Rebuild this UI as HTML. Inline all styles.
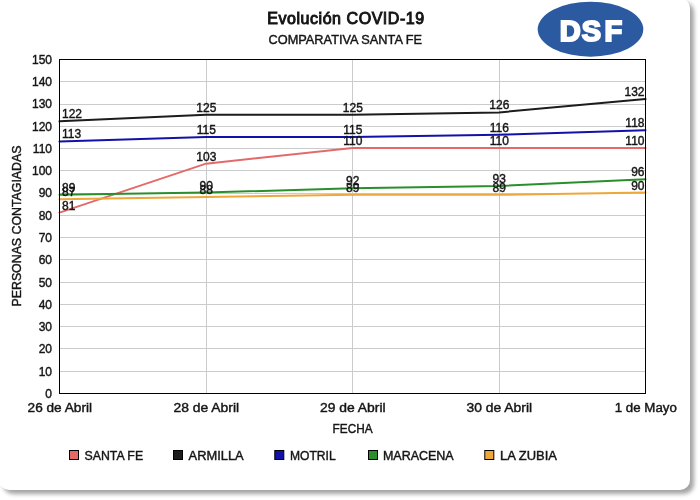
<!DOCTYPE html>
<html><head><meta charset="utf-8"><style>
html,body{margin:0;padding:0;background:#fff;width:700px;height:500px;overflow:hidden}
.card{position:absolute;left:-1px;top:-2px;width:691px;height:492px;background:#fff;border-radius:10px;box-shadow:4px 4px 4px rgba(0,0,0,0.36)}
svg{position:absolute;left:0;top:0;will-change:transform}
.t{font-family:"Liberation Sans",sans-serif;font-size:12px;fill:#151515;stroke:#151515;stroke-width:0.4px}
</style></head><body>
<div class="card"></div>
<svg width="700" height="500" viewBox="0 0 700 500">
<line x1="60" y1="371.5" x2="645" y2="371.5" stroke="#cbcbcb" stroke-width="1"/>
<line x1="60" y1="348.5" x2="645" y2="348.5" stroke="#cbcbcb" stroke-width="1"/>
<line x1="60" y1="326.5" x2="645" y2="326.5" stroke="#cbcbcb" stroke-width="1"/>
<line x1="60" y1="304.5" x2="645" y2="304.5" stroke="#cbcbcb" stroke-width="1"/>
<line x1="60" y1="282.5" x2="645" y2="282.5" stroke="#cbcbcb" stroke-width="1"/>
<line x1="60" y1="259.5" x2="645" y2="259.5" stroke="#cbcbcb" stroke-width="1"/>
<line x1="60" y1="237.5" x2="645" y2="237.5" stroke="#cbcbcb" stroke-width="1"/>
<line x1="60" y1="215.5" x2="645" y2="215.5" stroke="#cbcbcb" stroke-width="1"/>
<line x1="60" y1="193.5" x2="645" y2="193.5" stroke="#cbcbcb" stroke-width="1"/>
<line x1="60" y1="170.5" x2="645" y2="170.5" stroke="#cbcbcb" stroke-width="1"/>
<line x1="60" y1="148.5" x2="645" y2="148.5" stroke="#cbcbcb" stroke-width="1"/>
<line x1="60" y1="126.5" x2="645" y2="126.5" stroke="#cbcbcb" stroke-width="1"/>
<line x1="60" y1="104.5" x2="645" y2="104.5" stroke="#cbcbcb" stroke-width="1"/>
<line x1="60" y1="81.5" x2="645" y2="81.5" stroke="#cbcbcb" stroke-width="1"/>
<line x1="206.5" y1="60" x2="206.5" y2="393" stroke="#cbcbcb" stroke-width="1"/>
<line x1="352.5" y1="60" x2="352.5" y2="393" stroke="#cbcbcb" stroke-width="1"/>
<line x1="499.5" y1="60" x2="499.5" y2="393" stroke="#cbcbcb" stroke-width="1"/>
<text x="52" y="397.8" text-anchor="end" class="t">0</text>
<text x="52" y="375.5" text-anchor="end" class="t">10</text>
<text x="52" y="353.3" text-anchor="end" class="t">20</text>
<text x="52" y="331.0" text-anchor="end" class="t">30</text>
<text x="52" y="308.7" text-anchor="end" class="t">40</text>
<text x="52" y="286.5" text-anchor="end" class="t">50</text>
<text x="52" y="264.2" text-anchor="end" class="t">60</text>
<text x="52" y="241.9" text-anchor="end" class="t">70</text>
<text x="52" y="219.7" text-anchor="end" class="t">80</text>
<text x="52" y="197.4" text-anchor="end" class="t">90</text>
<text x="52" y="175.1" text-anchor="end" class="t">100</text>
<text x="52" y="152.9" text-anchor="end" class="t">110</text>
<text x="52" y="130.6" text-anchor="end" class="t">120</text>
<text x="52" y="108.3" text-anchor="end" class="t">130</text>
<text x="52" y="86.1" text-anchor="end" class="t">140</text>
<text x="52" y="63.8" text-anchor="end" class="t">150</text>
<text x="59.8" y="411.8" text-anchor="middle" class="t" textLength="64.4" lengthAdjust="spacingAndGlyphs">26 de Abril</text>
<text x="206.3" y="411.8" text-anchor="middle" class="t" textLength="65.5" lengthAdjust="spacingAndGlyphs">28 de Abril</text>
<text x="352.8" y="411.8" text-anchor="middle" class="t" textLength="65.7" lengthAdjust="spacingAndGlyphs">29 de Abril</text>
<text x="499.3" y="411.8" text-anchor="middle" class="t" textLength="65.5" lengthAdjust="spacingAndGlyphs">30 de Abril</text>
<text x="645.8" y="411.8" text-anchor="middle" class="t" textLength="62" lengthAdjust="spacingAndGlyphs">1 de Mayo</text>
<path d="M59.50,212.64 C59.50,212.64 206.00,163.65 206.00,163.65 C206.00,163.65 352.50,148.07 352.50,148.07 C352.50,148.07 499.00,148.07 499.00,148.07 C499.00,148.07 645.50,148.07 645.50,148.07" fill="none" stroke="#e46a6a" stroke-width="2" stroke-linejoin="round" stroke-linecap="round"/>
<path d="M59.50,121.35 C59.50,121.35 206.00,114.67 206.00,114.67 C206.00,114.67 352.50,114.67 352.50,114.67 C352.50,114.67 499.00,112.44 499.00,112.44 C499.00,112.44 645.50,99.08 645.50,99.08" fill="none" stroke="#1c1c1c" stroke-width="2" stroke-linejoin="round" stroke-linecap="round"/>
<path d="M59.50,141.39 C59.50,141.39 206.00,136.93 206.00,136.93 C206.00,136.93 352.50,136.93 352.50,136.93 C352.50,136.93 499.00,134.71 499.00,134.71 C499.00,134.71 645.50,130.25 645.50,130.25" fill="none" stroke="#1212a8" stroke-width="2" stroke-linejoin="round" stroke-linecap="round"/>
<path d="M59.50,194.83 C59.50,194.83 206.00,192.60 206.00,192.60 C206.00,192.60 352.50,188.15 352.50,188.15 C352.50,188.15 499.00,185.92 499.00,185.92 C499.00,185.92 645.50,179.24 645.50,179.24" fill="none" stroke="#2a8f2a" stroke-width="2" stroke-linejoin="round" stroke-linecap="round"/>
<path d="M59.50,199.28 C59.50,199.28 206.00,197.05 206.00,197.05 C206.00,197.05 352.50,194.83 352.50,194.83 C352.50,194.83 499.00,194.83 499.00,194.83 C499.00,194.83 645.50,192.60 645.50,192.60" fill="none" stroke="#eea83a" stroke-width="2" stroke-linejoin="round" stroke-linecap="round"/>
<rect x="59.5" y="59.5" width="586" height="334" fill="none" stroke="#000" stroke-width="1"/>
<text x="62" y="209.5" class="t">81</text>
<text x="206.3" y="160.6" text-anchor="middle" class="t">103</text>
<text x="352.8" y="145.0" text-anchor="middle" class="t">110</text>
<text x="499.3" y="145.0" text-anchor="middle" class="t">110</text>
<text x="644.5" y="145.0" text-anchor="end" class="t">110</text>
<text x="62" y="118.2" class="t">122</text>
<text x="206.3" y="111.6" text-anchor="middle" class="t">125</text>
<text x="352.8" y="111.6" text-anchor="middle" class="t">125</text>
<text x="499.3" y="109.3" text-anchor="middle" class="t">126</text>
<text x="644.5" y="96.0" text-anchor="end" class="t">132</text>
<text x="62" y="138.3" class="t">113</text>
<text x="206.3" y="133.8" text-anchor="middle" class="t">115</text>
<text x="352.8" y="133.8" text-anchor="middle" class="t">115</text>
<text x="499.3" y="131.6" text-anchor="middle" class="t">116</text>
<text x="644.5" y="127.2" text-anchor="end" class="t">118</text>
<text x="62" y="191.7" class="t">89</text>
<text x="206.3" y="189.5" text-anchor="middle" class="t">90</text>
<text x="352.8" y="185.0" text-anchor="middle" class="t">92</text>
<text x="499.3" y="182.8" text-anchor="middle" class="t">93</text>
<text x="644.5" y="176.1" text-anchor="end" class="t">96</text>
<text x="62" y="196.2" class="t">87</text>
<text x="206.3" y="194.0" text-anchor="middle" class="t">88</text>
<text x="352.8" y="191.7" text-anchor="middle" class="t">89</text>
<text x="499.3" y="191.7" text-anchor="middle" class="t">89</text>
<text x="644.5" y="189.5" text-anchor="end" class="t">90</text>
<text x="352.6" y="433.3" text-anchor="middle" class="t" textLength="40" lengthAdjust="spacingAndGlyphs">FECHA</text>
<text transform="translate(21,226) rotate(-90)" x="0" y="0" text-anchor="middle" class="t" textLength="161" lengthAdjust="spacingAndGlyphs">PERSONAS CONTAGIADAS</text>
<text x="345.7" y="23.6" text-anchor="middle" class="t" style="font-size:16px;font-weight:normal;stroke-width:0.95px" textLength="157" lengthAdjust="spacing">Evolución COVID-19</text>
<text x="345.3" y="44.2" text-anchor="middle" class="t" textLength="153.4" lengthAdjust="spacingAndGlyphs">COMPARATIVA SANTA FE</text>
<ellipse cx="590.5" cy="29.2" rx="52.8" ry="27.5" fill="#2c5aa0"/>
<text x="570.3" y="40.6" text-anchor="middle" style="font-family:'Liberation Sans',sans-serif;font-size:29px;font-weight:bold;fill:#fff;stroke:#fff;stroke-width:2px;stroke-linejoin:miter">D</text>
<text x="591.5" y="40.6" text-anchor="middle" style="font-family:'Liberation Sans',sans-serif;font-size:29px;font-weight:bold;fill:#fff;stroke:#fff;stroke-width:2px;stroke-linejoin:miter">S</text>
<text x="613.3" y="40.6" text-anchor="middle" style="font-family:'Liberation Sans',sans-serif;font-size:29px;font-weight:bold;fill:#fff;stroke:#fff;stroke-width:2px;stroke-linejoin:miter">F</text>
<rect x="69.5" y="450.5" width="9" height="9" fill="#e46a6a" stroke="#000" stroke-width="1"/>
<text x="84.5" y="459.5" class="t" textLength="58.6" lengthAdjust="spacingAndGlyphs">SANTA FE</text>
<rect x="173.5" y="450.5" width="9" height="9" fill="#1c1c1c" stroke="#000" stroke-width="1"/>
<text x="188.6" y="459.5" class="t" textLength="55.1" lengthAdjust="spacingAndGlyphs">ARMILLA</text>
<rect x="274.8" y="450.5" width="9" height="9" fill="#1212a8" stroke="#000" stroke-width="1"/>
<text x="290" y="459.5" class="t" textLength="45.7" lengthAdjust="spacingAndGlyphs">MOTRIL</text>
<rect x="368.5" y="450.5" width="9" height="9" fill="#2a8f2a" stroke="#000" stroke-width="1"/>
<text x="382.9" y="459.5" class="t" textLength="70.8" lengthAdjust="spacingAndGlyphs">MARACENA</text>
<rect x="484.8" y="450.5" width="9" height="9" fill="#eea83a" stroke="#000" stroke-width="1"/>
<text x="500" y="459.5" class="t" textLength="57" lengthAdjust="spacingAndGlyphs">LA ZUBIA</text>
</svg>
</body></html>
